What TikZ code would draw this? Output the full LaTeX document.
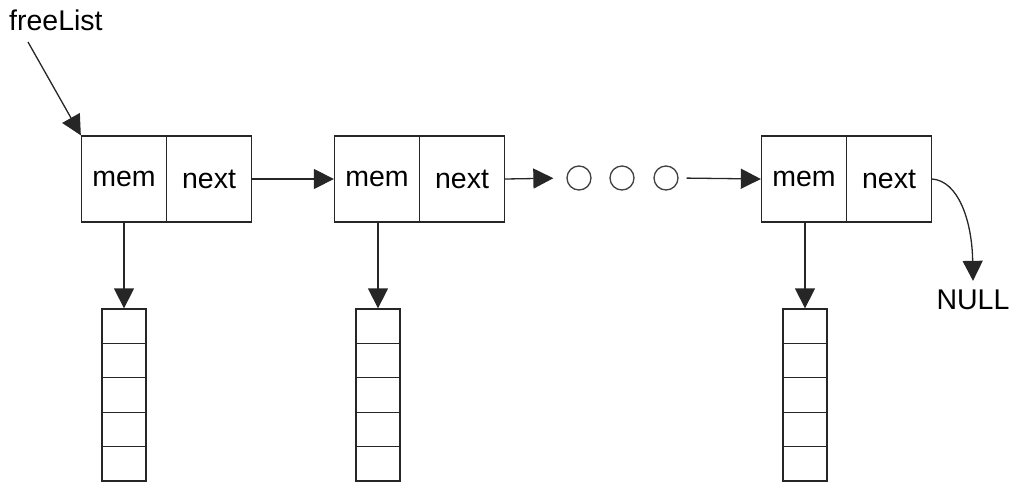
\documentclass[tikz,border=0pt]{standalone}
\usepackage{fontspec}
\setmainfont{Liberation Sans}
\usetikzlibrary{arrows.meta}
\begin{document}
\begin{tikzpicture}[x=1pt,y=-1pt,
  every node/.style={font=\fontsize{28.5}{31}\selectfont},
  half/.style={draw=black!85,line width=1.3pt,minimum width=85pt,minimum height=86pt,inner sep=0pt,anchor=center},
  cell/.style={draw=black!85,line width=1.3pt,minimum width=44pt,minimum height=34.4pt,inner sep=0pt},
  dot/.style={draw=black!75,line width=1.3pt,circle,minimum size=24pt,inner sep=0pt},
  arr/.style={line width=1.3pt,draw=black!85,-{Triangle[length=20pt,width=20pt]}}]
\useasboundingbox (0,0) rectangle (1009,482);
% nodes of the list
\node[half] (m1) at (124,179) {mem};
\node[half] (n1) at (209,179) {next};
\node[half] (m2) at (377,179) {mem};
\node[half] (n2) at (462,179) {next};
\node[half] (m3) at (804,179) {mem};
\node[half] (n3) at (889,179) {next};
% circles
\node[dot] (o1) at (579,178) {};
\node[dot] (o2) at (622,178) {};
\node[dot] (o3) at (666,178) {};
% arrays
\foreach \k/\x in {a/124,b/378,c/805}{
  \foreach \i in {1,...,5}{
    \node[cell] (arr\k\i) at (\x,{309+17.2+34.4*(\i-1)}) {};
  }
}
% labels
\node[anchor=west,inner sep=0pt] (fl) at (9,20) {freeList};
\node[inner sep=0pt] (null) at (973,300) {NULL};
\coordinate (flstart) at (28,42);
% connectors
\draw[arr] (flstart) -- (m1.north west);
\draw[arr] (n1.east) -- (m2.west);
\draw[arr,shorten >=13pt] (n2.east) -- (o1.west);
\draw[arr,shorten <=8pt] (o3.east) -- (m3.west);
\draw[arr] (arra1.north |- m1.south) -- (arra1.north);
\draw[arr] (arrb1.north |- m2.south) -- (arrb1.north);
\draw[arr] (arrc1.north |- m3.south) -- (arrc1.north);
\draw[arr] (n3.east) .. controls (958,181) and (972,220) .. ([yshift=9pt]null.north);
\end{tikzpicture}
\end{document}
